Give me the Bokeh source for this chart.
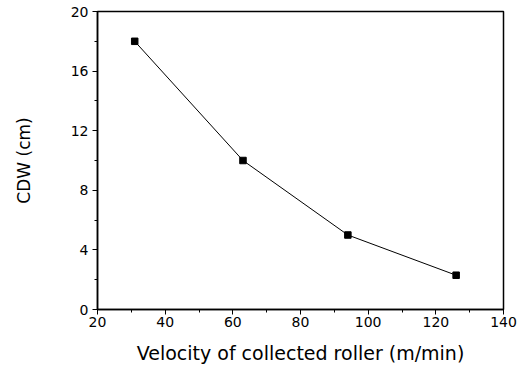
from bokeh.plotting import figure
from bokeh.models import Range1d, FixedTicker
from bokeh.embed import file_html
from bokeh.resources import INLINE

velocity = [31, 63, 94, 126]
cdw = [18.0, 10.0, 5.0, 2.3]
x_major = [20, 40, 60, 80, 100, 120, 140]
x_minor = [30, 50, 70, 90, 110, 130]
y_major = [0, 4, 8, 12, 16, 20]
y_minor = [2, 6, 10, 14, 18]

p = figure(width=525, height=369, output_backend="svg", toolbar_location=None,
           x_range=Range1d(20, 140), y_range=Range1d(0, 20),
           min_border_left=97, min_border_right=22, min_border_top=11, min_border_bottom=60)

p.line(velocity, cdw, line_color="black", line_width=1)
p.scatter(velocity, cdw, marker="square", size=6.5, fill_color="black", line_color="black")

p.xgrid.visible = False
p.ygrid.visible = False
p.outline_line_color = "black"
p.outline_line_width = 1.5
p.background_fill_color = "white"
p.border_fill_color = "white"

p.xaxis.ticker = FixedTicker(ticks=x_major, minor_ticks=x_minor)
p.yaxis.ticker = FixedTicker(ticks=y_major, minor_ticks=y_minor)
p.xaxis.axis_label = "Velocity of collected roller (m/min)"
p.yaxis.axis_label = "CDW (cm)"

for ax in (p.xaxis[0], p.yaxis[0]):
    ax.axis_line_color = "black"
    ax.axis_line_width = 1.5
    ax.major_tick_line_color = "black"
    ax.minor_tick_line_color = "black"
    ax.major_tick_in = 0
    ax.major_tick_out = 5
    ax.minor_tick_in = 0
    ax.minor_tick_out = 3
    ax.major_label_text_font = "DejaVu Sans"
    ax.major_label_text_font_size = "14px"
    ax.major_label_text_color = "black"
    ax.axis_label_text_font = "DejaVu Sans"
    ax.axis_label_text_font_style = "normal"
    ax.axis_label_text_color = "black"

p.xaxis.axis_label_text_font_size = "19px"
p.yaxis.axis_label_text_font_size = "17px"
p.xaxis.major_label_standoff = 2
p.yaxis.major_label_standoff = 4
p.xaxis.axis_label_standoff = 12
p.yaxis.axis_label_standoff = 34

open("out.html", "w").write(file_html(p, INLINE))
